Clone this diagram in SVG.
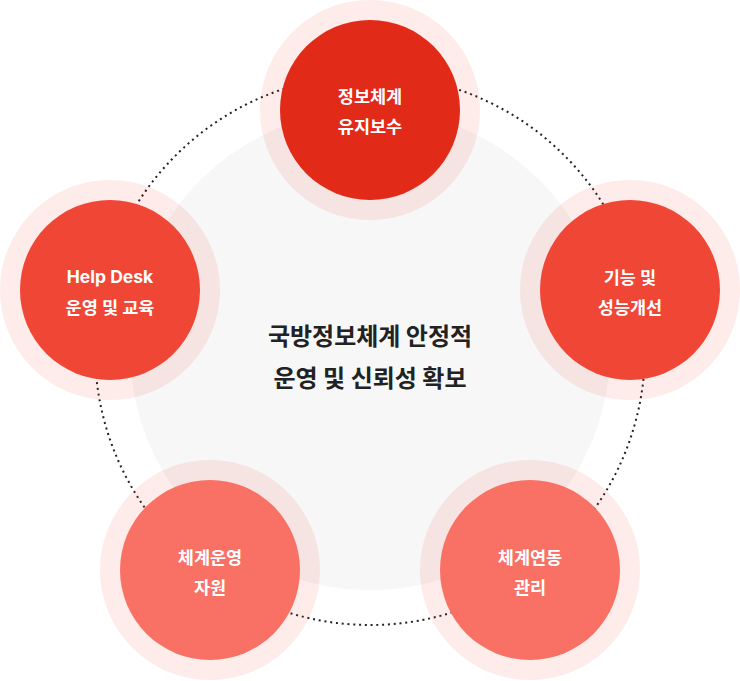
<svg xmlns="http://www.w3.org/2000/svg" width="740" height="681" viewBox="0 0 740 681">
<style>
.halo{fill:rgba(239,68,52,0.1)}
.t{font-family:Inter,"Noto Sans CJK KR",sans-serif;font-weight:700;font-size:17.5px;fill:#ffffff;text-anchor:middle}
.c{font-family:"Noto Sans CJK KR",sans-serif;font-weight:700;font-size:24px;fill:#222222;text-anchor:middle}
.n1{fill:#e12a18}
.n2{fill:#ef4636}
.n3{fill:#f87164}
</style>
<rect width="740" height="681" fill="#ffffff"/>
<g id="center">
<circle cx="370" cy="350" r="240" fill="#f7f7f7"/>
<text class="c" x="370" y="345">국방정보체계 안정적</text>
<text class="c" x="370" y="387">운영 및 신뢰성 확보</text>
</g>
<g id="connectors">
<circle cx="370" cy="350" r="275" fill="none" stroke="#222222" stroke-width="2" stroke-dasharray="2 3.8"/>
</g>
<g id="node-top">
<circle class="halo" cx="370" cy="110" r="110"/>
<circle class="n1" cx="370" cy="110" r="90"/>
<text class="t" x="370" y="103">정보체계</text>
<text class="t" x="370" y="133">유지보수</text>
</g>
<g id="node-left">
<circle class="halo" cx="110" cy="290" r="110"/>
<circle class="n2" cx="110" cy="290" r="90"/>
<text class="t" x="110" y="283">Help Desk</text>
<text class="t" x="110" y="314">운영 및 교육</text>
</g>
<g id="node-right">
<circle class="halo" cx="630" cy="290" r="110"/>
<circle class="n2" cx="630" cy="290" r="90"/>
<text class="t" x="630" y="284">기능 및</text>
<text class="t" x="630" y="314">성능개선</text>
</g>
<g id="node-bottom-left">
<circle class="halo" cx="210" cy="570" r="110"/>
<circle class="n3" cx="210" cy="570" r="90"/>
<text class="t" x="210" y="564">체계운영</text>
<text class="t" x="210" y="594">자원</text>
</g>
<g id="node-bottom-right">
<circle class="halo" cx="530" cy="570" r="110"/>
<circle class="n3" cx="530" cy="570" r="90"/>
<text class="t" x="530" y="564">체계연동</text>
<text class="t" x="530" y="594">관리</text>
</g>
</svg>
